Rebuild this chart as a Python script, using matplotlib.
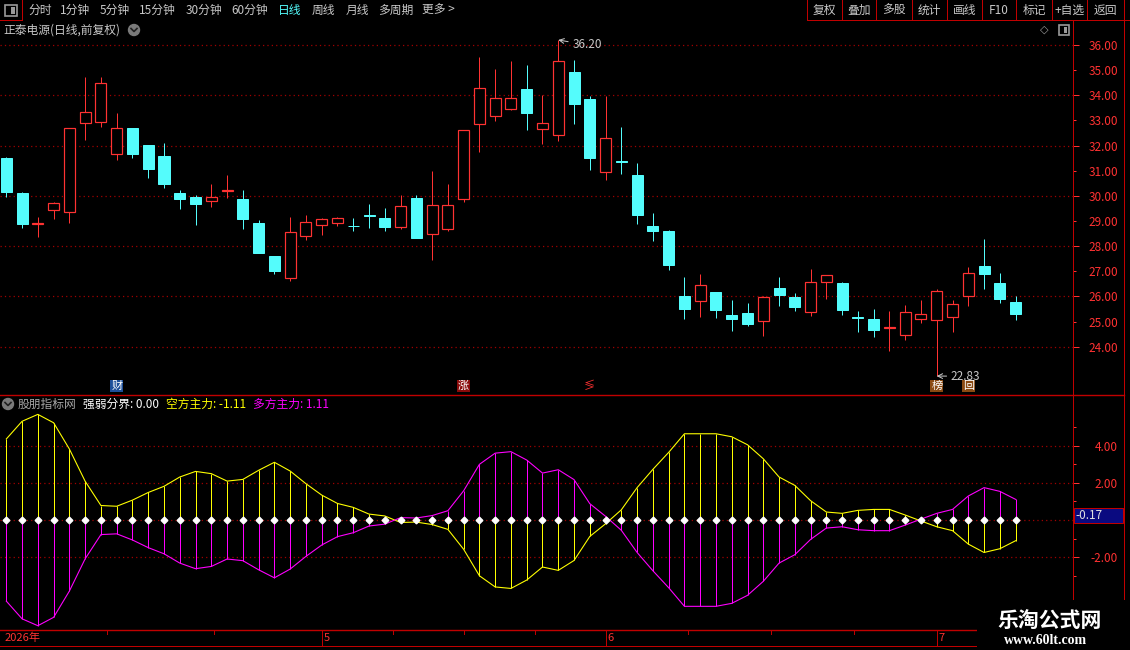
import numpy as np
import matplotlib
matplotlib.use('Agg')
import matplotlib.pyplot as plt
from matplotlib.patches import Rectangle, Circle
from matplotlib.transforms import blended_transform_factory
from matplotlib.ticker import FixedLocator

plt.rcParams['font.family'] = ['Noto Sans CJK SC', 'DejaVu Sans']

# ---- data ----------------------------------------------------------------
stock_title = '正泰电源(日线,前复权)'

opens = np.array([31.51, 30.11, 28.89, 29.42, 29.37, 32.88, 32.92, 31.65, 32.69, 32.02,
                  31.58, 30.11, 29.95, 29.78, 30.20, 29.87, 28.92, 27.61, 26.72, 28.39,
                  28.83, 28.91, 28.81, 29.23, 29.11, 28.77, 29.91, 28.47, 28.69, 29.86,
                  32.87, 33.16, 33.47, 34.25, 32.65, 32.41, 34.93, 33.85, 30.94, 31.38,
                  30.83, 28.80, 28.60, 26.02, 25.83, 26.18, 25.25, 25.33, 25.01, 26.32,
                  25.96, 25.37, 26.56, 26.53, 25.18, 25.10, 24.75, 24.45, 25.11, 25.05,
                  25.19, 26.00, 27.20, 26.52, 25.76])
highs = np.array([31.54, 30.15, 29.16, 29.74, 32.69, 34.73, 34.73, 33.30, 32.69, 32.02,
                  32.10, 30.23, 30.03, 30.47, 30.83, 30.23, 29.04, 27.61, 29.16, 29.24,
                  29.11, 29.16, 29.13, 29.68, 29.52, 30.03, 30.03, 30.99, 30.47, 32.61,
                  35.52, 35.05, 35.36, 35.20, 34.01, 36.20, 35.40, 33.97, 33.97, 32.74,
                  31.31, 29.32, 28.63, 26.77, 26.89, 26.18, 25.86, 25.74, 26.00, 26.77,
                  26.14, 27.09, 26.84, 26.57, 25.42, 25.50, 25.42, 25.66, 25.86, 26.28,
                  25.86, 27.16, 28.28, 26.93, 26.00])
lows = np.array([29.97, 28.73, 28.38, 29.09, 28.93, 32.23, 32.75, 31.44, 31.52, 30.72,
                 30.32, 29.49, 28.85, 29.57, 29.93, 28.69, 27.74, 26.90, 26.63, 28.26,
                 28.46, 28.81, 28.61, 28.73, 28.61, 28.69, 28.34, 27.46, 28.61, 29.77,
                 31.76, 32.99, 33.43, 32.63, 32.07, 32.19, 32.87, 31.04, 30.64, 30.88,
                 28.89, 28.22, 27.06, 25.11, 25.19, 25.15, 24.64, 24.83, 24.44, 25.63,
                 25.43, 25.23, 25.91, 25.27, 24.60, 24.40, 23.84, 24.28, 24.95, 22.83,
                 24.60, 25.63, 26.31, 25.75, 25.07])
closes = np.array([30.17, 28.89, 28.91, 29.70, 32.69, 33.32, 34.48, 32.69, 31.68, 31.08,
                   30.48, 29.89, 29.69, 29.95, 30.22, 29.09, 27.74, 27.02, 28.55, 28.95,
                   29.07, 29.11, 28.79, 29.19, 28.77, 29.58, 28.34, 29.62, 29.62, 32.61,
                   34.28, 33.88, 33.88, 33.31, 32.88, 35.36, 33.67, 31.52, 32.29, 31.34,
                   29.25, 28.61, 27.26, 25.51, 26.44, 25.47, 25.11, 24.91, 25.96, 26.07,
                   25.59, 26.56, 26.84, 25.47, 25.16, 24.68, 24.77, 25.37, 25.29, 26.20,
                   25.69, 26.92, 26.90, 25.88, 25.31])

# 空方主力 (yellow); 多方主力 is its mirror image
kong = np.array([4.35, 5.30, 5.67, 5.22, 3.81, 2.08, 0.78, 0.74, 1.07, 1.48,
                 1.81, 2.31, 2.61, 2.49, 2.09, 2.18, 2.67, 3.10, 2.63, 1.95,
                 1.34, 0.89, 0.68, 0.32, 0.22, -0.13, -0.11, -0.24, -0.50, -1.57,
                 -2.99, -3.59, -3.67, -3.22, -2.52, -2.70, -2.17, -0.88, -0.20, 0.55,
                 1.74, 2.72, 3.63, 4.63, 4.63, 4.63, 4.47, 4.04, 3.29, 2.31,
                 1.86, 1.04, 0.43, 0.36, 0.52, 0.57, 0.57, 0.27, -0.05, -0.36,
                 -0.57, -1.29, -1.74, -1.54, -1.11])
duo = -kong
boundary = 0.00
cursor_value = -0.17

price_ticks = np.arange(24, 37)
ind_ticks = [4, 2, 0, -2]

# bar index -> marker text, box colour
event_bars = [7, 29, 37, 59, 61]
event_text = ['财', '涨', '≶', '榜', '回']
event_bg = ['#1d4f9a', '#8a0a0a', None, '#8a4a12', '#8a4a12']

month_bars = [20, 38, 59]
month_labels = ['5', '6', '7']
year_label = '2026年'

tabs = ['分时', '1分钟', '5分钟', '15分钟', '30分钟', '60分钟', '日线', '周线', '月线', '多周期', '更多 >']
buttons = ['复权', '叠加', '多股', '统计', '画线', 'F10', '标记', '+自选', '返回']

# ---- styles -----------------------------------------------------------------
W, H = 1130, 650
PX = 0.72  # one pixel in points
RED = '#ff3232'
CYAN = '#54fcfc'
YEL = '#ffff00'
MAG = '#ff00ff'
GRAY = '#c8c8c8'
GRID = '#a00000'
LINE = '#c00000'

fig = plt.figure(figsize=(W / 100, H / 100), dpi=100, facecolor='black')


def px_axes(x0, y0, x1, y1, **kw):
    return fig.add_axes([x0 / W, 1 - y1 / H, (x1 - x0) / W, (y1 - y0) / H], **kw)


ax = px_axes(0, 20, 1073, 395)
ax2 = px_axes(0, 395, 1073, 630)
ov = px_axes(0, 0, W, H)
ov.set_xlim(0, W)
ov.set_ylim(H, 0)
ov.axis('off')
ov.patch.set_alpha(0)
ov.set_zorder(10)

idx = np.arange(len(opens))
xlim = (-0.4, 67.64)

# ---- price panel ------------------------------------------------------------
ax.set_facecolor('black')
ax.set_xlim(*xlim)
ax.set_ylim(22.078, 36.994)
for i in idx:
    o, h, l, c = opens[i], highs[i], lows[i], closes[i]
    top, bot = max(o, c), min(o, c)
    if c >= o:
        ax.vlines(i, top, h, color=RED, lw=PX, zorder=3)
        ax.vlines(i, l, bot, color=RED, lw=PX, zorder=3)
        ax.add_patch(Rectangle((i - 0.35, bot), 0.7, top - bot, facecolor='black',
                               edgecolor=RED, lw=PX * 1.2, zorder=4))
    else:
        ax.vlines(i, l, h, color=CYAN, lw=PX, zorder=3)
        ax.add_patch(Rectangle((i - 0.35, bot), 0.7, top - bot, facecolor=CYAN,
                               edgecolor=CYAN, lw=PX, zorder=4))

ax.yaxis.tick_right()
ax.set_yticks(price_ticks)
ax.set_yticklabels([f'{v:.2f}' for v in price_ticks])
ax.yaxis.set_minor_locator(FixedLocator(price_ticks[::2]))
ax.yaxis.remove_overlapping_locs = False
ax.tick_params(axis='y', which='major', length=3 * PX, width=PX, color=RED,
               labelcolor=RED, labelsize=8.5, pad=42 * PX)
ax.tick_params(axis='y', which='minor', length=6 * PX, width=PX, color=RED)
for lab in ax.get_yticklabels():
    lab.set_ha('right')
ax.set_xticks([])
ax.grid(axis='y', which='minor', color=GRID, linestyle=(0, (1, 2.5)), lw=0.9)
ax.set_axisbelow(True)
for s in ['left', 'top', 'bottom']:
    ax.spines[s].set_visible(False)
ax.spines['right'].set_color(LINE)
ax.spines['right'].set_linewidth(PX)

hi = int(np.argmax(highs))
lo = int(np.argmin(lows))
ax.annotate(f'{highs[hi]:.2f}', xy=(hi, highs[hi]), xytext=(14, -5), textcoords='offset pixels',
            color=GRAY, fontsize=8.5, va='center', ha='left',
            arrowprops=dict(arrowstyle='->', color=GRAY, lw=PX, shrinkA=1, shrinkB=0))
ax.annotate(f'{lows[lo]:.2f}', xy=(lo, lows[lo]), xytext=(14, 0), textcoords='offset pixels',
            color=GRAY, fontsize=8.5, va='center', ha='left',
            arrowprops=dict(arrowstyle='->', color=GRAY, lw=PX, shrinkA=1, shrinkB=0))

ev_tr = blended_transform_factory(ax.transData, ov.transData)
for b, t, bg in zip(event_bars, event_text, event_bg):
    if bg is None:
        ov.text(b, 386, t, transform=ev_tr, color=RED, fontsize=8, ha='center', va='center')
    else:
        ov.text(b, 386, t, transform=ev_tr, color='white', fontsize=8, ha='center', va='center',
                bbox=dict(boxstyle='square,pad=0.1', facecolor=bg, edgecolor='none'))

# ---- indicator panel --------------------------------------------------------
ax2.set_facecolor('black')
ax2.set_xlim(*xlim)
ax2.set_ylim(-5.90, 6.71)
ax2.vlines(idx, 0, kong, color=YEL, lw=PX, zorder=3)
ax2.vlines(idx, 0, duo, color=MAG, lw=PX, zorder=3)
ax2.plot(idx, kong, color=YEL, lw=PX * 1.1, zorder=4)
ax2.plot(idx, duo, color=MAG, lw=PX * 1.1, zorder=4)
ax2.plot(idx, np.full(len(idx), boundary), linestyle='none', marker='D', ms=3.4,
         color='white', mec='white', zorder=5)

ax2.yaxis.tick_right()
ax2.set_yticks(ind_ticks)
# the 0.00 label sits under the cursor value box
ax2.set_yticklabels(['' if v == 0 else f'{v:.2f}' for v in ind_ticks])
ax2.yaxis.set_minor_locator(FixedLocator([-5, -3, -1, 1, 3, 5]))
ax2.tick_params(axis='y', which='major', length=6 * PX, width=PX, color=RED,
                labelcolor=RED, labelsize=8.5, pad=39 * PX)
ax2.tick_params(axis='y', which='minor', length=3 * PX, width=PX, color=RED)
for lab in ax2.get_yticklabels():
    lab.set_ha('right')
ax2.set_xticks([])
ax2.grid(axis='y', which='major', color=GRID, linestyle=(0, (1, 2.5)), lw=0.9)
ax2.set_axisbelow(True)
for s in ['left', 'top', 'bottom']:
    ax2.spines[s].set_visible(False)
ax2.spines['right'].set_color(LINE)
ax2.spines['right'].set_linewidth(PX)

# ---- frame, toolbar and labels (pixel coordinates) --------------------------
fs = 8.5
ov.add_patch(Rectangle((4.5, 4.5), 12, 11, facecolor='none', edgecolor='#9a9a9a', lw=1.2))
ov.add_patch(Rectangle((11, 6.5), 4, 7, facecolor='#9a9a9a', edgecolor='none'))
ov.plot([21.5, 21.5], [0, 20], color=LINE, lw=PX)
ov.plot([0, 21.5], [20, 20], color=LINE, lw=PX)
tab_x = [28, 60, 100, 139, 186, 231, 278, 312, 346, 378, 422]
for t, x in zip(tabs, tab_x):
    ov.text(x, 10.5, t, color=CYAN if t == '日线' else GRAY, fontsize=fs, ha='left', va='center')

seps = [807, 842, 876, 912, 946.5, 982, 1016, 1052, 1086.5, 1124]
for x in seps:
    ov.plot([x, x], [0, 20], color=LINE, lw=PX)
ov.plot([807, W], [20, 20], color=LINE, lw=PX)
for t, a, b in zip(buttons, seps[:-1], seps[1:]):
    ov.text((a + b) / 2, 10.5, t, color=GRAY, fontsize=fs, ha='center', va='center')

ov.text(3, 30, stock_title, color=GRAY, fontsize=fs, ha='left', va='center')
ov.add_patch(Circle((134, 30), 5.5, color='#7a7a7a'))
ov.plot([131, 134, 137], [28.5, 31.5, 28.5], color='#202020', lw=1.2)
ov.text(1044, 30, '◇', color='#9a9a9a', fontsize=8, ha='center', va='center', family='DejaVu Sans')
ov.add_patch(Rectangle((1058.5, 25), 10, 10, facecolor='none', edgecolor='#9a9a9a', lw=1.2))
ov.add_patch(Rectangle((1063.5, 27), 3.5, 6, facecolor='#9a9a9a', edgecolor='none'))

ov.plot([1124, 1124], [20, 600], color=LINE, lw=PX)
ov.plot([0, 1124], [395, 395], color=LINE, lw=PX * 1.4)

# indicator title
ov.add_patch(Circle((8, 404), 5.5, color='#7a7a7a'))
ov.plot([5, 8, 11], [402.5, 405.5, 402.5], color='#202020', lw=1.2)
ov.text(18, 404, '股朋指标网', color='#a8a8a8', fontsize=fs, ha='left', va='center')
ov.text(83, 404, f'强弱分界: {boundary:.2f}', color='white', fontsize=fs, ha='left', va='center')
ov.text(166, 404, f'空方主力: {kong[-1]:.2f}', color=YEL, fontsize=fs, ha='left', va='center')
ov.text(253, 404, f'多方主力: {duo[-1]:.2f}', color=MAG, fontsize=fs, ha='left', va='center')

# cursor value box
ov.add_patch(Rectangle((1074, 508), 49, 15, facecolor='#0a0a80', edgecolor=LINE, lw=PX))
ov.text(1075, 515.5, f'{cursor_value:.2f}', color='#e0e0e0', fontsize=8.5, ha='left', va='center')

# date strip
ov.plot([0, 1124], [630, 630], color=LINE, lw=PX * 1.4)
ov.plot([0, 1124], [646, 646], color=LINE, lw=PX)
dt = blended_transform_factory(ax2.transData, ov.transData)
ov.text(5, 638, year_label, color=RED, fontsize=8, ha='left', va='center')
bounds = [xlim[0]] + month_bars
nsub = [3, 4, 4]
for a, b, n in zip(bounds[:-1], bounds[1:], nsub):
    for t in np.linspace(a, b, n + 1)[1:-1]:
        ov.plot([t, t], [630, 634], color=LINE, lw=PX, transform=dt)
for b, lab in zip(month_bars, month_labels):
    ov.plot([b, b], [630, 646], color=LINE, lw=PX, transform=dt)
    ov.text(b + 0.12, 638, lab, color=RED, fontsize=8, ha='left', va='center', transform=dt)

# watermark
ov.add_patch(Rectangle((977, 600), 153, 50, facecolor='black', edgecolor='none', zorder=5))
ov.text(1050, 620, '乐淘公式网', color='white', fontsize=15, fontweight='bold',
        ha='center', va='center', zorder=6)
ov.text(1046, 641, 'www.60lt.com', color='white', fontsize=10, fontweight='bold',
        family='Liberation Serif', ha='center', va='center', zorder=6)

fig.savefig('out.png', dpi=100, facecolor='black')
